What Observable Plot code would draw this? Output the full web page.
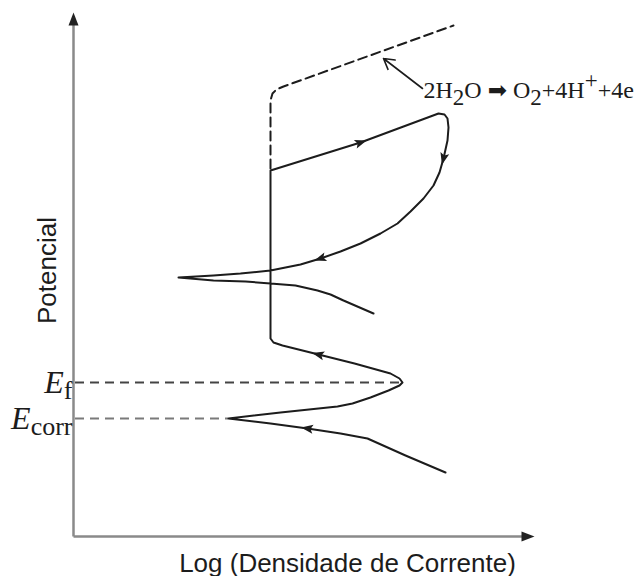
<!DOCTYPE html>
<html><head><meta charset="utf-8">
<script src="https://cdn.jsdelivr.net/npm/d3@7"></script>
<script src="https://cdn.jsdelivr.net/npm/@observablehq/plot@0.6"></script>
<style>body{margin:0;background:#fff}</style>
</head><body><div id="chart"></div>
<script>
// ---- data (X = log current density, Y = potential; arbitrary units, origin at axes corner)
const curveX = [372,332,294,267,234,197,155,207,264,279,297,315,326,329,326,317,281,245,209,200,197,197,287,365,371,374,375,374,370,366,360,350,337,324,307,287,267,247,227,212,197,167,140,105,140,172,197,222,244,257,270,300];
const curveY = [64,81,98,103,108,113,118,124,130,133,139,146,151,154,158,163,173,182,191,194,198,366,394,423,422,418,409,396,378,364,351,338,325,313,303,293,285,278,272,269,266,263,261,259,256,255,253,251,246,242,236,223];
const o2X = [197,197,199,203,210,380];
const o2Y = [368,436,443,447,450,511];
const arrowX = [234,245,287,370,247];
const arrowY = [108,182,394,378,278];
const levelNames = ["*E*_{f}", "*E*_{corr}"];
const levelY = [154, 118];
const levelEndX = [329, 155];
const axisEndX = 461;
const axisEndY = 524;
const xLabel = "Log (Densidade de Corrente)";
const yLabel = "Potencial";
const reaction = "2H_{2}O ➡ O_{2}+4H^{+}+4e";
const reactionAt = [350, 439];
const pointerFrom = [349, 448];
const pointerTo = [310, 478];

// ---- tables
const curve = curveX.map((x, i) => ({x, y: curveY[i]}));
const o2 = o2X.map((x, i) => ({x, y: o2Y[i]}));
const levels = levelNames.map((name, i) => ({name, y: levelY[i], x2: levelEndX[i]}));
const heads = arrowX.map((x, i) => {
  const y = arrowY[i];
  let k = 0, best = Infinity;
  curve.forEach((p, j) => { const d = (p.x - x) ** 2 + (p.y - y) ** 2; if (d < best) { best = d; k = j; } });
  const a = curve[Math.max(0, k - 1)], b = curve[Math.min(curve.length - 1, k + 1)];
  return {x, y, angle: Math.atan2(b.x - a.x, b.y - a.y) * 180 / Math.PI};
});
const axisTips = [{x: 0, y: axisEndY, angle: 0}, {x: axisEndX, y: 0, angle: 90}];

// ---- symbols
const curveHead = {draw(ctx) { ctx.moveTo(0, -6.5); ctx.lineTo(4.5, 5.5); ctx.lineTo(0, 3); ctx.lineTo(-4.5, 5.5); ctx.closePath(); }};
const axisHead = {draw(ctx) { ctx.moveTo(0, 0); ctx.lineTo(5, 13); ctx.lineTo(-5, 13); ctx.closePath(); }};

const ink = "#1c1c1c";
const serif = "Liberation Serif, Times New Roman, serif";
const sans = "Liberation Sans, Arial, sans-serif";
const svg = Plot.plot({
  width: 644, height: 576, margin: 0,
  x: {domain: [-73, 571], axis: null},
  y: {domain: [-40, 536], axis: null},
  style: {background: "#fff", overflow: "visible"},
  marks: [
    // axes
    Plot.link([0], {x1: 0, y1: 0, x2: 0, y2: axisEndY - 8, stroke: "#8a8a8a", strokeWidth: 2.5}),
    Plot.link([0], {x1: 0, y1: 0, x2: axisEndX - 8, y2: 0, stroke: "#8a8a8a", strokeWidth: 2.5}),
    Plot.dot(axisTips, {x: "x", y: "y", rotate: "angle", symbol: axisHead, fill: "#222", stroke: "none"}),
    // reference levels
    Plot.ruleY(levels.slice(0, 1), {y: "y", x1: 2, x2: "x2", stroke: "#444", strokeWidth: 2, strokeDasharray: "9,6"}),
    Plot.ruleY(levels.slice(1), {y: "y", x1: 2, x2: "x2", stroke: "#7a7a7a", strokeWidth: 2.2, strokeDasharray: "9,6"}),
    // oxygen evolution (dashed)
    Plot.line(o2, {x: "x", y: "y", stroke: ink, strokeWidth: 2, strokeDasharray: "9,5"}),
    // polarization curve
    Plot.line(curve, {x: "x", y: "y", stroke: ink, strokeWidth: 2, strokeLinejoin: "round"}),
    Plot.dot(heads, {x: "x", y: "y", rotate: "angle", symbol: curveHead, fill: ink, stroke: "none"}),
    // annotation
    Plot.arrow([0], {x1: pointerFrom[0], y1: pointerFrom[1], x2: pointerTo[0], y2: pointerTo[1], stroke: ink, strokeWidth: 1.6, headLength: 11}),
    Plot.text([reaction], {x: reactionAt[0], y: reactionAt[1], text: d => d, textAnchor: "start", lineAnchor: "bottom",
      fontFamily: serif, fontSize: 24, fill: ink}),
    // level labels
    Plot.text(levels, {x: -1, y: "y", text: "name", textAnchor: "end", lineAnchor: "middle",
      fontFamily: serif, fontSize: 32, fill: ink}),
    // axis labels
    Plot.text([xLabel], {x: 274, y: -35, text: d => d, textAnchor: "middle", lineAnchor: "bottom",
      fontFamily: sans, fontSize: 26, fill: ink}),
    Plot.text([yLabel], {x: -26, y: 266, text: d => d, rotate: -90, textAnchor: "middle", lineAnchor: "middle",
      fontFamily: sans, fontSize: 26, fill: ink})
  ]
});

// ---- rich text (italic, sub/superscripts)
function parseRich(s) {
  const segs = []; let italic = false, buf = "", i = 0;
  const push = (mode) => { if (buf) segs.push({t: buf, mode, italic}); buf = ""; };
  while (i < s.length) {
    const c = s[i];
    if (c === "*") { push("base"); italic = !italic; i++; }
    else if ((c === "_" || c === "^") && s[i + 1] === "{") {
      push("base");
      const j = s.indexOf("}", i);
      segs.push({t: s.slice(i + 2, j), mode: c === "_" ? "sub" : "sup", italic: false});
      i = j + 1;
    } else if (c === "➡") { push("base"); segs.push({t: c, mode: "glyph", italic: false}); i++; }
    else { buf += c; i++; }
  }
  push("base");
  return segs;
}
const richLevel = {subShift: 6, supShift: 0, subSize: 26};
const richReaction = {subShift: 7, supShift: 10, subSize: 23, glyphSize: 23};
d3.select(svg).selectAll("text").each(function() {
  const raw = this.textContent;
  if (!/[_^*➡]/.test(raw)) return;
  const opt = raw.startsWith("*") ? richLevel : richReaction;
  const segs = parseRich(raw);
  const el = d3.select(this); el.text(null);
  let cur = 0;
  for (const sg of segs) {
    const ts = el.append("tspan").text(sg.t);
    const target = sg.mode === "sub" ? opt.subShift : sg.mode === "sup" ? -opt.supShift : 0;
    if (target !== cur) ts.attr("dy", target - cur);
    cur = target;
    if (sg.italic) ts.attr("font-style", "italic");
    if (sg.mode === "sub" || sg.mode === "sup") ts.attr("font-size", opt.subSize);
    if (sg.mode === "glyph") ts.attr("font-family", "DejaVu Sans").attr("font-size", opt.glyphSize);
  }
});

document.getElementById("chart").append(svg);
</script></body></html>
